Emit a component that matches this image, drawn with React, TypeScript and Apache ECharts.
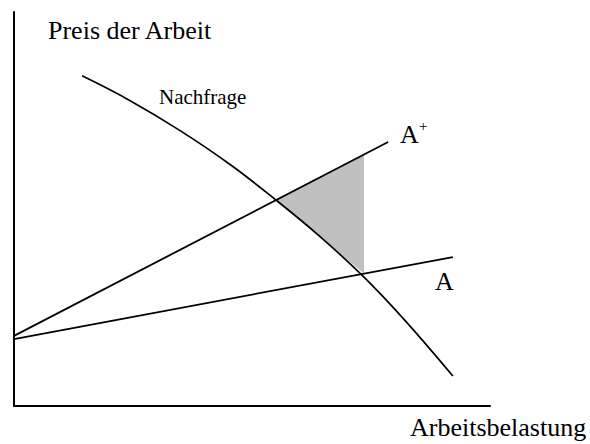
import React, { useEffect, useRef } from "react";
import * as echarts from "echarts";

// Demand curve ("Nachfrage"), in chart units
const demandX = [1.43, 2.44, 3.49, 4.54, 5.48, 6.43, 7.31, 8.17, 9.22];
const demandY = [8.38, 7.75, 6.99, 6.13, 5.25, 4.3, 3.32, 2.23, 0.76];

// Line A
const lineAX = [0, 9.22];
const lineAY = [1.7, 3.78];

// Line A+
const lineAPlusX = [0, 7.86];
const lineAPlusY = [1.78, 6.7];

// Shaded region (between A+, the vertical, and the demand curve)
const shadeX = [5.5, 7.353, 7.353, 6.43];
const shadeY = [5.23, 6.38, 3.36, 4.3];

const FONT = "'Liberation Serif', 'Times New Roman', serif";

const zip = (xs: number[], ys: number[]) => xs.map((x, i) => [x, ys[i]]);

export default function App() {
  const ref = useRef<HTMLDivElement>(null);
  useEffect(() => {
    if (!ref.current) return;
    const chart = echarts.init(ref.current, undefined, { renderer: "svg" });
    const shadePts = zip(shadeX, shadeY);
    chart.setOption({
      animation: false,
      backgroundColor: "#ffffff",
      grid: { left: 14, right: 100, top: 12, bottom: 38 },
      xAxis: {
        type: "value",
        min: 0,
        max: 10,
        axisLine: { show: true, onZero: false, lineStyle: { color: "#000", width: 2 } },
        axisTick: { show: false },
        axisLabel: { show: false },
        splitLine: { show: false },
      },
      yAxis: {
        type: "value",
        min: 0,
        max: 10,
        axisLine: { show: true, onZero: false, lineStyle: { color: "#000", width: 2 } },
        axisTick: { show: false },
        axisLabel: { show: false },
        splitLine: { show: false },
      },
      series: [
        {
          type: "custom",
          z: 1,
          data: [0],
          renderItem: (params: any, api: any) => {
            const pts = shadePts.map((p) => api.coord(p));
            return {
              type: "polygon",
              shape: { points: pts },
              style: { fill: "#c0c0c0", stroke: "none" },
            };
          },
          silent: true,
        },
        {
          type: "line",
          name: "Nachfrage",
          z: 3,
          data: zip(demandX, demandY),
          smooth: 0.4,
          showSymbol: false,
          lineStyle: { color: "#000", width: 1.7 },
          silent: true,
        },
        {
          type: "line",
          name: "A",
          z: 3,
          data: zip(lineAX, lineAY),
          showSymbol: false,
          lineStyle: { color: "#000", width: 1.8 },
          silent: true,
        },
        {
          type: "line",
          name: "A+",
          z: 3,
          data: zip(lineAPlusX, lineAPlusY),
          showSymbol: false,
          lineStyle: { color: "#000", width: 1.8 },
          silent: true,
        },
      ],
      graphic: [
        {
          type: "text",
          left: 48,
          top: 17,
          style: { text: "Preis der Arbeit", font: `26px ${FONT}`, fill: "#000" },
        },
        {
          type: "text",
          left: 159,
          top: 86,
          style: { text: "Nachfrage", font: `21px ${FONT}`, fill: "#000" },
        },
        {
          type: "text",
          left: 400,
          top: 121,
          style: { text: "A", font: `26px ${FONT}`, fill: "#000" },
        },
        {
          type: "text",
          left: 419,
          top: 118,
          style: { text: "+", font: `15px ${FONT}`, fill: "#000" },
        },
        {
          type: "text",
          left: 435,
          top: 268,
          style: { text: "A", font: `26px ${FONT}`, fill: "#000" },
        },
        {
          type: "text",
          left: 410,
          top: 414,
          style: { text: "Arbeitsbelastung", font: `26px ${FONT}`, fill: "#000" },
        },
      ],
    });
    return () => chart.dispose();
  }, []);
  return (
    <div
      ref={ref}
      style={{ position: "absolute", left: 0, top: 0, width: 590, height: 444 }}
    />
  );
}
